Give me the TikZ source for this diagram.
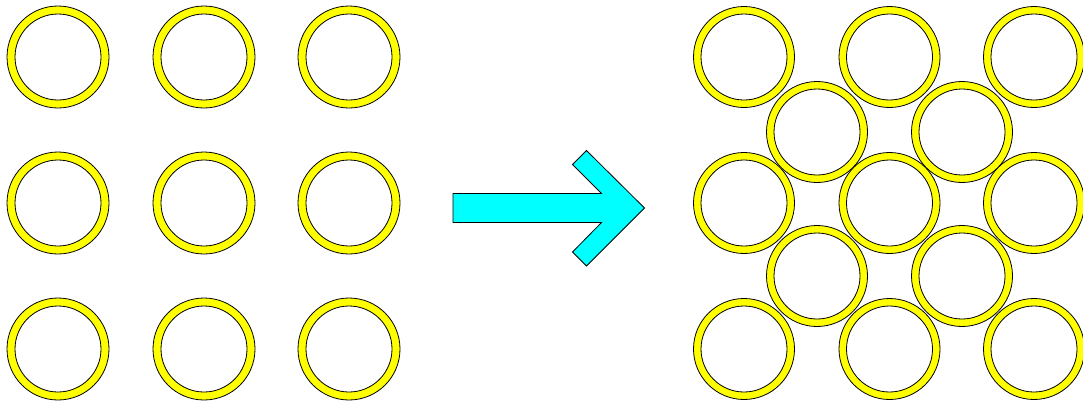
\documentclass[tikz,border=0pt]{standalone}
\usepackage{tikz}
\usetikzlibrary{calc}

\definecolor{ringyellow}{RGB}{255,255,0}
\definecolor{arrowcyan}{RGB}{0,255,255}

\tikzset{
  ring/.style = {fill=ringyellow, draw=black, even odd rule, line width=0.8pt},
  bigarrow/.style = {fill=arrowcyan, draw=black, line width=0.8pt, line join=miter}
}

\begin{document}
\begin{tikzpicture}[x = 1pt, y = -1pt]

    % Cornice
    \useasboundingbox (0,0) rectangle (1083,405);

    % Griglia quadrata
    \foreach \cx in {58, 204, 349}
      \foreach \cy in {57, 203, 349}
        \path[ring] (\cx,\cy) circle (51) (\cx,\cy) circle (43);

    % Freccia
    \draw[bigarrow] (453,193.5) -- (601.5,193.5) -- (572.5,164.5) -- (586.5,150.5)
        -- (644.5,208) -- (586.5,266) -- (572.5,252) -- (601.5,222.5)
        -- (453,222.5) -- cycle;

    % Griglia esagonale
    \foreach \cx in {744, 889.5, 1034}
      \foreach \cy in {57, 203, 349}
        \path[ring] (\cx,\cy) circle (50.5) (\cx,\cy) circle (43);
    \foreach \cx in {817, 962}
      \foreach \cy in {132, 276}
        \path[ring] (\cx,\cy) circle (50.5) (\cx,\cy) circle (43);

\end{tikzpicture}
\end{document}
